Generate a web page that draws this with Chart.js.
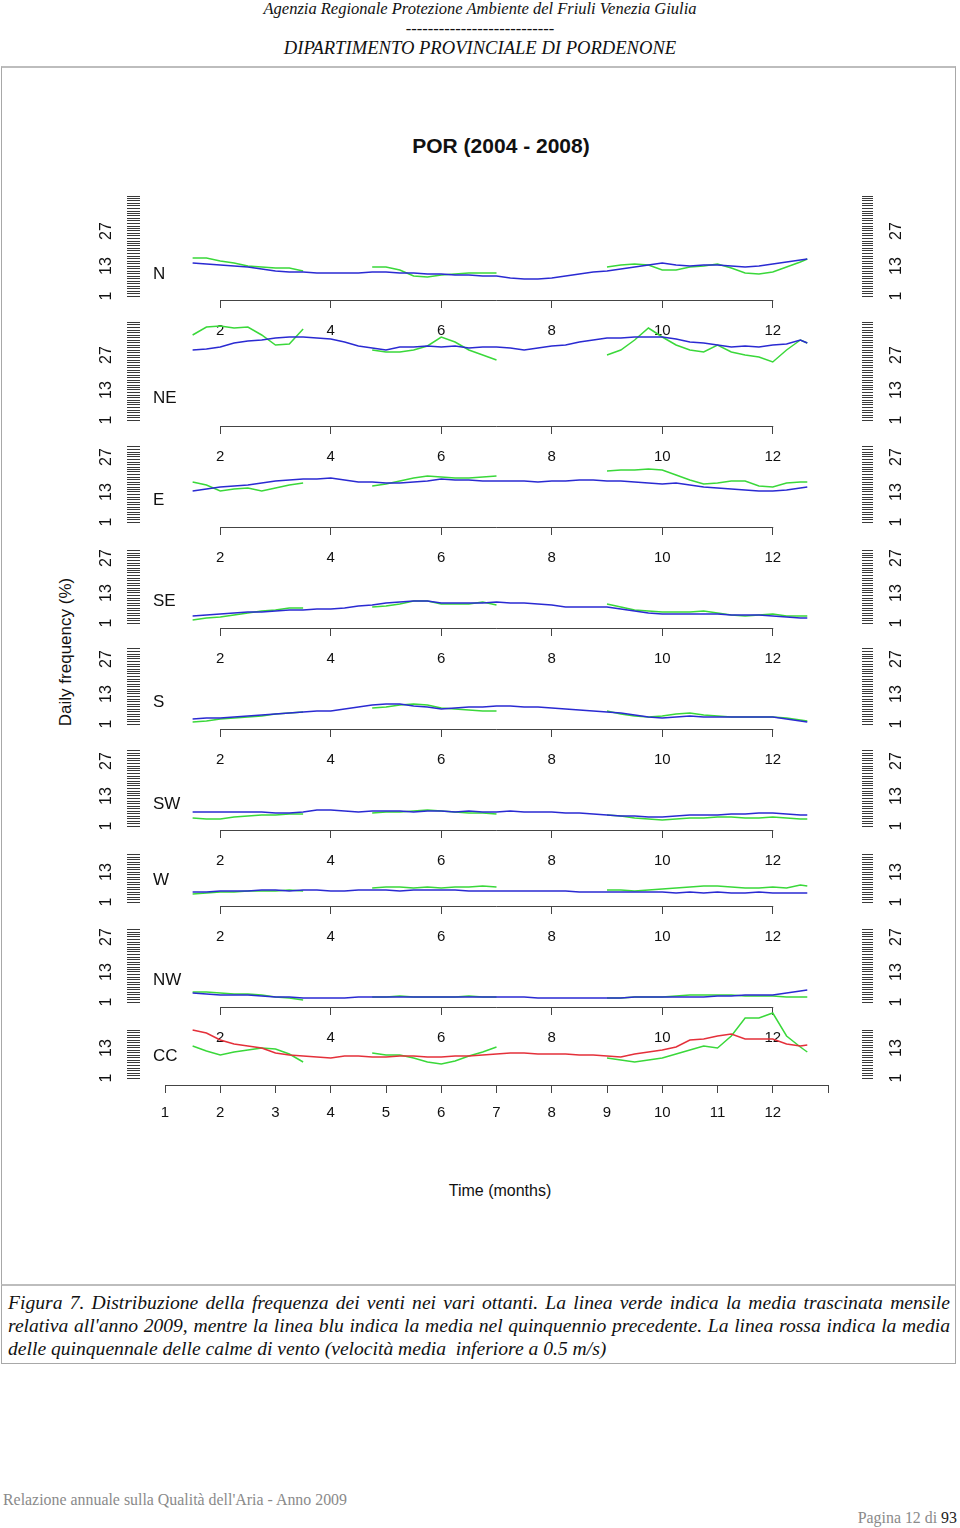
<!DOCTYPE html>
<html><head><meta charset="utf-8">
<script src="https://cdn.jsdelivr.net/npm/chart.js@4.4.1/dist/chart.umd.min.js"></script>
<style>
html,body{margin:0;padding:0;background:#fff;}
body{width:960px;height:1528px;position:relative;overflow:hidden;font-family:"Liberation Serif",serif;}
.c{position:absolute;transform:translate(-50%,-50%);white-space:nowrap;line-height:1;}
.hdr{font-style:italic;color:#111;font-size:16.5px;}
.box{position:absolute;border:1px solid #a8a8a8;border-top:2px solid #bdbdbd;box-sizing:border-box;}
.cap{position:absolute;left:8px;width:942px;font-style:italic;font-size:19.6px;line-height:23px;color:#111;}
.cap div{white-space:nowrap;}
.j{text-align:justify;text-align-last:justify;}
canvas{position:absolute;left:0;}
.sans{font-family:"Liberation Sans",Arial,sans-serif;color:#111;}
</style></head>
<body>
<div class="c hdr" style="left:480px;top:9px;">Agenzia Regionale Protezione Ambiente del Friuli Venezia Giulia</div>
<div class="c hdr" style="left:480px;top:29px;">---------------------------</div>
<div class="c hdr" style="left:480px;top:48px;font-size:18.6px;">DIPARTIMENTO PROVINCIALE DI PORDENONE</div>

<div class="box" style="left:1px;top:66px;width:955px;height:1220px;"></div>
<div class="box" style="left:1px;top:1284px;width:955px;height:80px;"></div>

<div class="c sans" style="left:501px;top:145px;font-size:21px;font-weight:bold;">POR (2004 - 2008)</div>
<div class="c sans" style="left:65px;top:652px;font-size:17px;transform:translate(-50%,-50%) rotate(-90deg);">Daily frequency (%)</div>
<div class="c sans" style="left:500px;top:1191px;font-size:16px;">Time (months)</div>

<div class="cap" style="top:1291px;">
<div class="j">Figura 7. Distribuzione della frequenza dei venti nei vari ottanti. La linea verde indica la media trascinata mensile</div>
<div class="j">relativa all'anno 2009, mentre la linea blu indica la media nel quinquennio precedente. La linea rossa indica la media</div>
<div>delle quinquennale delle calme di vento (velocità media&nbsp; inferiore a 0.5 m/s)</div>
</div>

<div style="position:absolute;left:3px;top:1491px;font-size:15.9px;color:#8a8a8a;white-space:nowrap;">Relazione annuale sulla Qualità dell'Aria - Anno 2009</div>
<div style="position:absolute;right:3px;top:1509px;font-size:15.9px;color:#8a8a8a;white-space:nowrap;">Pagina 12 di <span style="color:#222">93</span></div>

<div id="charts"></div>

<script>
// ---------------- DATA ----------------
const months = [1.5,1.75,2,2.25,2.5,2.75,3,3.25,3.5,3.75,4,4.25,4.5,4.75,5,5.25,5.5,5.75,6,6.25,6.5,6.75,7,7.25,7.5,7.75,8,8.25,8.5,8.75,9,9.25,9.5,9.75,10,10.25,10.5,10.75,11,11.25,11.5,11.75,12,12.25,12.5,12.625];

const panelNames = ['N','NE','E','SE','S','SW','W','NW','CC'];

// five-year mean (blue; red for calms)
const nBlue  = [14.2,13.8,13.4,13.0,12.6,11.8,11.0,10.6,10.6,10.2,10.2,10.2,10.2,10.6,10.6,10.2,10.2,9.8,9.8,9.4,9.4,9.0,9.0,8.2,7.8,7.8,8.2,9.0,9.8,10.6,11.0,11.8,12.6,13.4,14.2,13.4,13.0,13.4,13.4,13.0,12.6,13.0,13.8,14.6,15.4,15.8];
const neBlue = [29.0,29.4,30.2,31.8,32.6,33.0,33.8,34.2,34.2,33.8,33.4,32.2,30.6,29.8,29.0,30.2,30.2,30.6,30.2,30.6,29.8,30.2,30.2,29.8,29.0,29.8,30.6,31.0,32.2,33.0,33.8,33.8,34.2,34.2,34.2,33.4,32.2,31.8,31.0,30.2,30.6,30.2,31.0,31.4,33.0,31.8];
const eBlue  = [13.4,14.2,15.0,15.4,15.8,16.6,17.4,17.8,18.2,18.2,18.6,17.8,17.0,17.0,16.6,16.6,17.0,17.4,18.2,17.8,17.8,17.4,17.4,17.4,17.4,17.0,17.4,17.4,17.8,17.8,17.4,17.4,17.0,16.6,16.2,16.6,15.8,15.0,14.6,14.2,13.8,13.4,13.4,13.8,14.6,15.0];
const seBlue = [3.8,4.2,4.6,5.0,5.4,5.4,5.8,6.2,6.2,6.6,6.6,7.0,7.8,8.2,9.0,9.4,9.8,9.8,9.0,9.0,9.0,9.0,9.4,9.0,9.0,8.6,8.2,7.4,7.4,7.4,7.4,6.6,5.8,5.0,4.6,4.6,4.6,4.6,4.6,4.2,4.2,4.2,3.8,3.4,3.0,3.0];
const sBlue  = [3.0,3.4,3.4,3.8,4.2,4.6,5.0,5.4,5.8,6.2,6.2,7.0,7.8,8.6,9.0,9.0,8.2,7.8,7.0,7.4,7.8,7.8,8.2,8.2,7.8,7.8,7.4,7.0,6.6,6.2,5.8,5.4,4.6,3.8,3.4,3.8,4.2,3.8,3.8,3.8,3.8,3.8,3.8,3.0,2.2,1.8];
const swBlue = [6.6,6.6,6.6,6.6,6.6,6.6,6.2,6.2,6.6,7.4,7.4,7.0,6.6,7.0,7.0,7.0,6.6,7.0,7.0,6.6,7.0,6.6,6.6,7.0,6.6,6.6,6.6,6.2,6.2,5.8,5.4,5.0,5.0,4.6,4.6,5.0,5.4,5.4,5.4,5.8,5.8,6.2,6.2,5.8,5.4,5.4];
const wBlue  = [5.0,5.0,5.4,5.4,5.4,5.8,5.8,5.4,5.8,5.8,5.4,5.4,5.8,5.8,5.8,5.4,5.8,5.8,5.8,5.8,5.4,5.4,5.4,5.4,5.4,5.4,5.4,5.4,5.0,5.0,5.0,5.0,5.0,5.0,5.0,4.6,5.0,4.6,5.0,4.6,4.6,5.0,4.6,4.6,4.6,4.6];
const nwBlue = [4.6,4.2,3.8,3.8,3.8,3.4,3.0,3.0,2.6,2.6,2.6,2.6,3.0,3.0,3.0,3.0,3.0,3.0,3.0,3.0,3.0,3.0,3.0,3.0,3.0,2.6,2.6,2.6,2.6,2.6,2.6,2.6,3.0,3.0,3.0,3.0,3.0,3.0,3.4,3.4,3.8,3.8,3.8,4.6,5.4,5.8];
const ccRed  = [20.2,19.0,16.2,14.6,13.8,13.0,11.0,10.2,9.8,9.4,9.0,9.8,9.8,9.4,9.4,9.8,9.8,9.4,9.4,9.8,9.8,10.2,10.6,11.0,11.0,10.6,10.6,10.6,10.2,10.2,9.8,9.4,10.6,11.4,12.2,13.4,16.2,16.6,17.8,18.6,16.6,16.6,16.6,14.6,13.8,14.2];

// 2009 monthly running mean (green)
const nGreen  = [16.2,16.2,15.0,14.2,13.0,12.6,12.2,12.2,11.0,null,null,null,null,12.6,12.6,11.4,9.0,8.6,9.4,9.8,10.2,10.2,10.2,null,null,null,null,null,null,null,12.6,13.4,13.8,13.4,11.4,11.4,12.6,13.0,13.8,12.2,10.2,9.8,10.6,12.6,14.6,15.8];
const neGreen = [35.0,38.2,38.6,37.8,38.2,35.0,31.0,31.4,37.4,null,null,null,null,29.0,28.2,28.2,29.0,30.6,34.2,32.2,29.0,27.0,25.0,null,null,null,null,null,null,null,27.0,29.0,33.0,37.8,34.2,31.0,29.0,28.2,31.0,28.2,27.0,26.2,24.2,29.0,33.0,31.8];
const eGreen  = [17.0,15.8,13.4,14.2,14.6,13.4,14.6,15.8,16.6,null,null,null,null,15.4,16.2,17.4,18.6,19.4,19.0,18.6,18.6,19.0,19.4,null,null,null,null,null,null,null,21.4,21.8,21.8,22.2,21.8,19.8,17.8,16.2,16.6,17.4,17.4,15.4,15.0,16.6,17.0,17.0];
const seGreen = [2.2,3.0,3.4,4.2,5.0,5.8,6.2,7.0,7.0,null,null,null,null,7.4,7.8,8.6,9.8,9.8,8.6,8.6,8.6,9.4,8.2,null,null,null,null,null,null,null,8.6,7.4,6.2,5.8,5.4,5.4,5.4,5.8,5.0,4.2,3.8,4.2,4.6,3.8,3.8,3.8];
const sGreen  = [1.8,2.2,3.0,3.4,3.8,4.2,5.0,5.4,5.8,null,null,null,null,7.4,7.8,8.6,9.0,8.6,7.4,7.0,6.6,6.2,6.2,null,null,null,null,null,null,null,6.2,5.0,4.2,3.8,4.2,5.0,5.4,4.6,4.2,3.8,3.8,3.8,3.8,3.4,2.6,2.2];
const swGreen = [4.2,3.8,3.8,4.6,5.0,5.4,5.4,5.8,5.8,null,null,null,null,6.2,6.6,6.6,7.0,7.4,7.0,6.6,6.2,6.2,5.8,null,null,null,null,null,null,null,5.4,5.0,4.2,3.8,3.4,3.8,4.2,4.2,4.6,4.6,4.2,4.2,4.6,4.2,3.8,3.8];
const wGreen  = [4.2,4.6,5.0,5.0,5.4,5.4,5.4,5.8,5.4,null,null,null,null,6.6,7.0,7.0,6.6,7.0,6.6,7.0,7.0,7.4,7.0,null,null,null,null,null,null,null,5.8,5.8,5.4,5.8,6.2,6.6,7.0,7.4,7.4,7.0,6.6,6.6,7.0,6.6,7.8,7.4];
const nwGreen = [5.0,5.0,4.6,4.2,4.2,3.8,3.0,2.6,1.8,null,null,null,null,3.0,3.0,3.4,3.0,3.0,3.0,3.0,3.4,3.0,3.0,null,null,null,null,null,null,null,2.6,2.6,3.0,3.0,3.0,3.4,3.8,3.8,3.8,3.8,3.4,3.4,3.4,3.0,3.0,3.0];
const ccGreen = [13.8,11.8,10.2,11.4,12.2,13.0,12.6,10.6,7.4,null,null,null,null,11.0,10.2,10.2,9.0,7.4,6.6,7.8,9.8,11.4,13.4,null,null,null,null,null,null,null,9.0,8.2,7.4,8.2,9.0,10.6,12.2,13.8,13.0,17.8,25.0,25.0,27.0,17.8,13.4,11.4];

const meanSeries  = [nBlue, neBlue, eBlue, seBlue, sBlue, swBlue, wBlue, nwBlue, ccRed];
const greenSeries = [nGreen, neGreen, eGreen, seGreen, sGreen, swGreen, wGreen, nwGreen, ccGreen];

// tick labels
const midTicks = [2,4,6,8,10,12];
const bottomTicks = [1,2,3,4,5,6,7,8,9,10,11,12,13];
const bottomLabels = [1,2,3,4,5,6,7,8,9,10,11,12];
const yLabelsLong = [1,13,27];
const yLabelsShort = [1,13];
const rugTop = [41,40,31,30,31,31,20,30,20];   // highest rug tick of each panel

// ---------------- LAYOUT (pixels) ----------------
const L = {XL:140, XR:862, M1:165, M13:828, K:2.5, XH:48, nameX:153, yLabL:107, yLabR:897, W:960,
  panels:[{T:190,B:300,y1:296},{T:300,B:426,y1:420},{T:426,B:527,y1:522},{T:527,B:628,y1:623},
          {T:628,B:729,y1:724},{T:729,B:830,y1:826},{T:830,B:906,y1:902},{T:906,B:1007,y1:1002},{T:1007,B:1085,y1:1078}]};
const PPM = (L.M13 - L.M1) / 12;
const xMin = 1 - (L.M1 - L.XL) / PPM;
const xMax = 13 + (L.XR - L.M13) / PPM;

const BLUE = '#2a2ad2', GREEN = '#3ad83a', RED = '#e4303a';
const FONT = '"Liberation Sans", Arial, sans-serif';

const panelDecor = {
  id: 'panelDecor',
  afterDraw(chart, args, opts) {
    const {ctx, chartArea} = chart;
    const xs = chart.scales.x, yl = chart.scales.yL, yr = chart.scales.yR;
    ctx.save();
    ctx.strokeStyle = '#444'; ctx.lineWidth = 1;
    const t = opts.xTicks;
    const y = Math.round(chartArea.bottom) + 0.5;
    ctx.beginPath();
    ctx.moveTo(xs.getPixelForValue(t[0]), y);
    ctx.lineTo(xs.getPixelForValue(t[t.length - 1]) + 0.5, y);
    ctx.stroke();
    ctx.fillStyle = '#111';
    ctx.font = '16px ' + FONT;
    ctx.textAlign = 'center'; ctx.textBaseline = 'middle';
    for (const v of opts.yLabels) {
      for (const [sc, x] of [[yl, L.yLabL], [yr, L.yLabR]]) {
        ctx.save();
        ctx.translate(x, sc.getPixelForValue(v));
        ctx.rotate(-Math.PI / 2);
        ctx.fillText(String(v), 0, 0);
        ctx.restore();
      }
    }
    ctx.font = '17px ' + FONT;
    ctx.textAlign = 'left';
    ctx.fillText(opts.name, L.nameX, yl.getPixelForValue(1) - 22);
    ctx.restore();
  }
};

const holder = document.getElementById('charts');
panelNames.forEach((name, i) => {
  const P = L.panels[i];
  const last = i === panelNames.length - 1;
  const h = P.B - P.T + L.XH;
  const cv = document.createElement('canvas');
  cv.width = L.W; cv.height = h;
  cv.style.width = L.W + 'px'; cv.style.height = h + 'px';
  cv.style.top = P.T + 'px';
  holder.appendChild(cv);
  const yMin = 1 - (P.B - P.y1) / L.K;
  const yMax = 1 + (P.y1 - P.T) / L.K;
  const rug = Array.from({length: rugTop[i]}, (_, k) => k + 1);
  const xTicks = last ? bottomTicks : midTicks;
  const xLabels = last ? bottomLabels : midTicks;
  const pts = arr => months.map((m, k) => ({x: m, y: arr[k]}));
  const yAxis = (pos, tl, w) => ({
    type: 'linear', position: pos, min: yMin, max: yMax,
    afterBuildTicks: s => { s.ticks = rug.map(v => ({value: v})); },
    afterFit: s => { s.width = w; },
    grid: {drawOnChartArea: false, drawTicks: true, tickLength: tl, color: '#3a3a3a', lineWidth: 1},
    border: {display: false},
    ticks: {display: false}
  });
  new Chart(cv, {
    type: 'line',
    data: {datasets: [
      {label: last ? 'Calme 2004-2008' : 'Media 2004-2008', data: pts(meanSeries[i]), yAxisID: 'yL',
       borderColor: last ? RED : BLUE, borderWidth: 1.5, pointRadius: 0, tension: 0, spanGaps: false},
      {label: '2009', data: pts(greenSeries[i]), yAxisID: 'yL',
       borderColor: GREEN, borderWidth: 1.5, pointRadius: 0, tension: 0, spanGaps: false}
    ]},
    options: {
      responsive: false, animation: false, devicePixelRatio: 1,
      layout: {padding: 0},
      plugins: {legend: {display: false}, tooltip: {enabled: false},
                panelDecor: {name, xTicks, yLabels: (name === 'W' || name === 'CC') ? yLabelsShort : yLabelsLong}},
      scales: {
        x: {type: 'linear', position: 'bottom', min: xMin, max: xMax,
            afterBuildTicks: s => { s.ticks = xTicks.map(v => ({value: v})); },
            afterFit: s => { s.height = L.XH; },
            grid: {drawOnChartArea: false, drawTicks: true, tickLength: 8, color: '#444', lineWidth: 1},
            border: {display: false},
            ticks: {autoSkip: false, maxRotation: 0, minRotation: 0, padding: last ? 11 : 14,
                    font: {family: FONT, size: 15}, color: '#111',
                    callback: v => xLabels.includes(v) ? String(v) : ''}},
        yL: yAxis('left', 13, L.XL),
        yR: yAxis('right', 11, L.W - L.XR)
      }
    },
    plugins: [panelDecor]
  });
});
</script>
</body></html>
